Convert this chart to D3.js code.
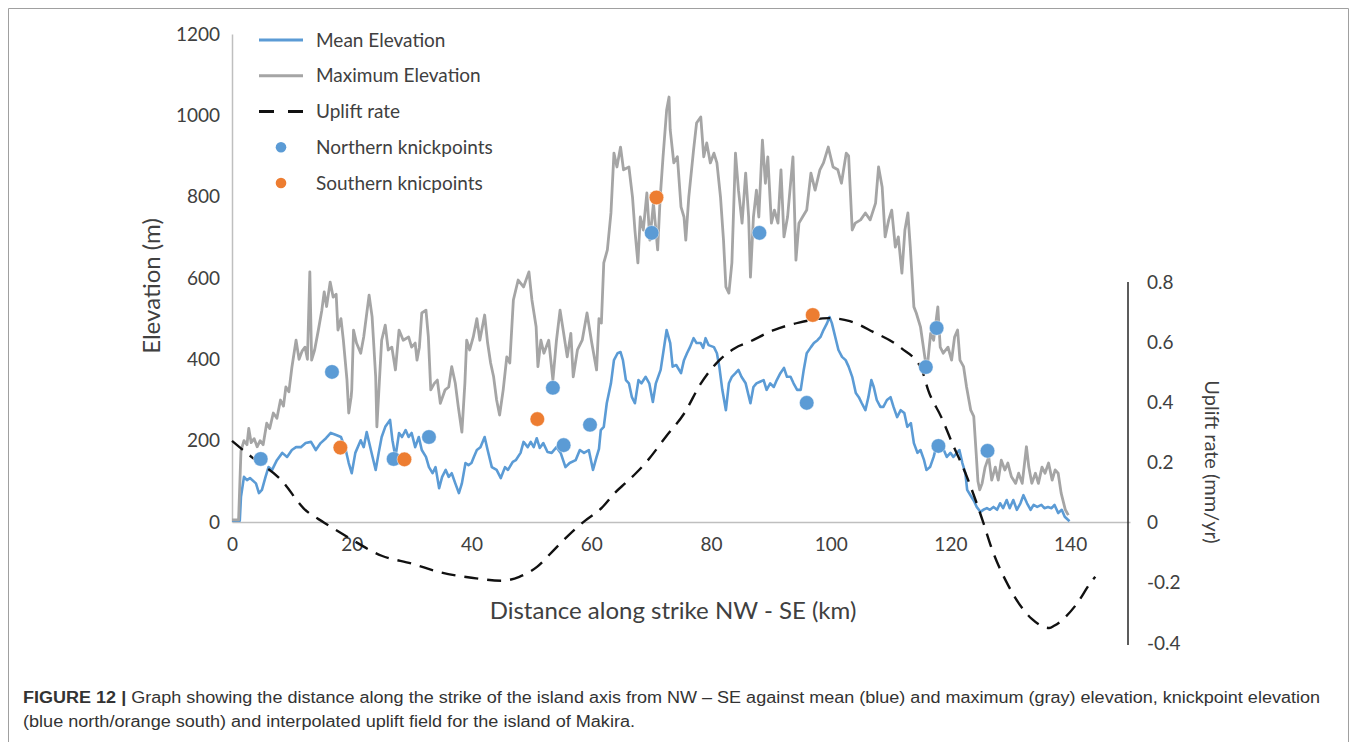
<!DOCTYPE html>
<html>
<head>
<meta charset="utf-8">
<script src="https://cdn.jsdelivr.net/npm/d3@7"></script>
<style>
  html, body { margin: 0; padding: 0; background: #fff; }
  svg { display: block; }
</style>
</head>
<body>
<svg id="fig" width="1357" height="742"></svg>
<script>
// Mean elevation along strike: [distance km, elevation m]
const meanElevation = [
[0,3],[1.3,3],[1.5,62],[2.0,111],[2.5,103],[3.0,108],[4.0,95],[4.5,71],[5.0,79],[5.6,111],[6.1,135],[6.7,128],[7.5,152],[8.4,170],[9.2,160],[10.0,177],[10.7,184],[11.5,184],[12.3,194],[13.2,197],[14.0,177],[14.8,194],[15.7,206],[16.5,219],[17.4,214],[18.2,209],[19.0,177],[19.5,145],[20.0,120],[20.6,170],[21.5,201],[22.0,184],[22.5,221],[23.2,177],[24.0,128],[24.5,170],[25.0,209],[25.6,234],[26.4,251],[26.8,201],[27.3,160],[27.9,219],[28.4,209],[29.0,226],[29.5,209],[30.0,219],[30.6,184],[31.2,209],[31.7,177],[32.4,160],[32.9,135],[33.5,120],[34.0,135],[34.6,83],[35.1,111],[35.7,128],[36.2,111],[36.7,120],[37.3,95],[37.9,71],[38.4,95],[39.0,145],[39.5,140],[40.0,145],[40.4,160],[40.9,177],[41.5,184],[42.2,209],[42.7,177],[43.4,135],[44.2,128],[44.9,108],[45.6,135],[46.1,128],[46.9,148],[47.4,152],[48.2,170],[48.7,197],[49.4,184],[49.9,197],[50.4,184],[50.9,206],[51.4,182],[52.0,194],[52.7,172],[53.4,170],[54.2,184],[54.9,170],[55.7,135],[56.4,145],[57.4,152],[58.1,177],[58.8,170],[59.6,177],[60.3,128],[60.9,160],[61.3,180],[61.6,226],[62.1,234],[62.6,292],[63.3,341],[63.8,398],[64.4,415],[64.9,418],[65.3,398],[65.8,349],[66.3,341],[66.8,307],[67.3,292],[67.9,349],[68.4,341],[69.1,357],[69.7,341],[70.3,295],[70.8,341],[71.6,374],[72.1,423],[72.6,472],[73.2,440],[73.6,382],[74.2,386],[75.0,366],[75.5,398],[76.0,415],[76.5,430],[77.1,452],[77.6,440],[78.3,440],[78.7,428],[79.1,452],[79.6,435],[80.5,430],[81.0,415],[81.4,382],[81.9,325],[82.5,275],[83.0,341],[83.5,357],[84.1,366],[84.6,374],[85.1,357],[85.8,341],[86.6,292],[87.1,332],[87.6,341],[88.2,345],[88.8,349],[89.3,325],[89.9,341],[90.5,332],[91.0,349],[91.6,366],[92.2,379],[92.7,357],[93.3,357],[93.8,341],[94.4,325],[95.0,325],[95.5,374],[96.0,415],[96.7,430],[97.2,440],[97.8,447],[98.3,455],[98.8,472],[99.4,489],[99.8,504],[100.2,489],[100.9,447],[101.3,423],[101.9,406],[102.5,398],[103.0,382],[103.6,357],[104.2,317],[104.7,307],[105.2,292],[105.8,275],[106.3,307],[106.8,349],[107.2,332],[107.7,300],[108.3,283],[108.8,283],[109.4,300],[110.0,307],[110.5,283],[111.1,258],[111.7,275],[112.3,268],[112.8,234],[113.4,243],[113.9,194],[114.5,170],[115.0,177],[115.6,152],[116.0,128],[116.6,135],[117.2,160],[117.8,194],[118.3,184],[118.9,177],[119.4,160],[120.0,170],[120.5,160],[121.1,170],[121.5,177],[122.0,145],[122.5,120],[122.8,79],[123.5,62],[124.0,50],[124.4,37],[125.0,25],[125.5,30],[126.1,34],[126.6,30],[127.2,37],[127.8,30],[128.3,46],[128.8,34],[129.4,54],[129.9,34],[130.5,54],[131.1,30],[131.7,46],[132.2,66],[132.8,46],[133.4,30],[133.9,42],[134.5,37],[135.2,42],[135.7,34],[136.3,37],[136.9,34],[137.4,42],[138.0,22],[138.6,30],[139.1,13],[139.9,2]
];

// Maximum elevation along strike: [distance km, elevation m]
const maxElevation = [
[0,5],[1.1,5],[1.5,175],[2.0,200],[2.5,190],[2.8,230],[3.2,195],[3.7,205],[4.2,185],[4.7,200],[5.2,190],[5.8,243],[6.3,230],[6.9,268],[7.5,255],[8.1,300],[8.6,285],[9.0,332],[9.5,320],[10.0,380],[10.7,447],[11.2,400],[11.7,420],[12.2,430],[12.6,400],[13.0,615],[13.3,398],[13.8,423],[14.4,470],[15.0,520],[15.4,566],[15.8,530],[16.4,590],[16.9,553],[17.4,560],[17.7,472],[18.2,500],[18.6,447],[19.2,350],[19.5,268],[19.9,307],[20.0,325],[20.3,472],[20.8,440],[21.5,415],[22.0,455],[22.9,558],[23.4,505],[24.0,357],[24.2,234],[24.6,341],[25.0,447],[25.6,484],[26.1,423],[26.7,430],[27.3,374],[27.9,472],[28.6,447],[29.5,455],[30.0,430],[30.6,440],[30.9,398],[31.3,430],[31.7,514],[32.4,521],[32.8,455],[33.2,325],[33.8,341],[34.3,349],[34.8,292],[35.6,325],[36.2,332],[36.7,382],[37.3,341],[37.8,283],[38.4,221],[38.9,341],[39.2,447],[39.7,423],[40.3,455],[40.9,500],[41.4,447],[42.2,509],[42.7,440],[43.2,391],[43.7,357],[44.2,300],[44.7,263],[45.3,325],[45.9,406],[46.4,391],[47.0,546],[47.8,595],[48.7,578],[49.6,615],[50.1,546],[50.8,480],[51.1,382],[51.6,447],[52.1,415],[52.9,447],[53.6,349],[54.2,447],[54.8,521],[55.4,464],[56.0,406],[56.6,464],[57.0,357],[57.7,423],[58.5,447],[59.3,514],[60.1,440],[60.9,374],[61.3,500],[61.7,489],[62.1,637],[62.7,669],[63.3,760],[63.8,907],[64.3,873],[64.9,922],[65.4,866],[66.3,873],[66.9,799],[67.3,718],[67.8,637],[68.2,750],[68.7,718],[69.3,809],[69.8,693],[70.4,784],[71.1,669],[71.5,792],[72.0,898],[72.6,1013],[73.0,1045],[73.2,964],[73.8,883],[74.4,898],[75.0,775],[75.5,750],[75.8,693],[76.3,799],[77.1,915],[77.6,981],[78.3,996],[78.8,898],[79.3,932],[79.9,883],[80.5,907],[81.0,883],[81.6,799],[82.1,693],[82.5,578],[83.0,563],[83.5,637],[84.1,907],[84.6,816],[85.2,735],[85.8,858],[86.3,750],[86.6,602],[87.1,750],[87.6,816],[88.0,750],[88.6,939],[89.1,833],[89.5,898],[90.1,735],[90.6,767],[91.2,735],[91.7,866],[92.2,701],[92.8,750],[93.7,898],[94.2,644],[94.7,735],[95.3,750],[96.0,767],[96.7,858],[97.4,816],[98.2,866],[98.8,883],[99.6,922],[100.4,873],[101.2,866],[101.8,833],[102.6,907],[103.0,900],[103.6,718],[104.1,735],[105.0,743],[105.8,760],[106.6,743],[107.5,784],[108.0,873],[108.6,824],[109.1,701],[109.7,743],[110.2,767],[110.8,676],[111.3,701],[111.9,612],[112.4,718],[112.9,760],[113.3,676],[113.9,529],[114.3,514],[115.0,480],[115.8,398],[116.2,391],[116.7,464],[117.2,447],[117.9,529],[118.3,430],[118.8,415],[119.6,430],[120.2,398],[120.7,455],[121.2,472],[121.6,398],[122.2,382],[122.7,332],[123.4,275],[123.9,260],[124.3,170],[124.6,100],[124.9,79],[125.3,95],[125.8,135],[126.4,160],[126.9,103],[127.5,135],[128.0,103],[128.5,152],[129.1,128],[129.6,145],[130.2,111],[130.9,95],[131.4,120],[132.0,95],[132.7,185],[133.1,135],[133.6,95],[134.2,120],[134.7,95],[135.3,135],[135.8,120],[136.4,145],[137.0,103],[137.5,128],[138.0,120],[138.5,71],[139.2,30],[139.7,17]
];

// Interpolated uplift field: [distance km, uplift mm/yr]
const upliftRate = [
[0,0.272],[3.4,0.216],[8.3,0.14],[12,0.047],[15.4,0.0],[19.5,-0.05],[25,-0.11],[30,-0.136],[35,-0.166],[40,-0.183],[45,-0.193],[48,-0.18],[51,-0.146],[54,-0.086],[57,-0.027],[59,0.007],[61.8,0.05],[64,0.10],[65.8,0.133],[67.5,0.165],[69.4,0.206],[72.6,0.289],[75.5,0.362],[78.3,0.462],[81.3,0.538],[84,0.58],[86.3,0.60],[90.5,0.64],[94.7,0.665],[99.7,0.68],[103.2,0.67],[107,0.635],[111.8,0.58],[115.2,0.51],[116.3,0.44],[118.5,0.35],[120.4,0.26],[122.4,0.17],[125.5,0.0],[126.8,-0.08],[129.7,-0.21],[133.6,-0.32],[136.5,-0.35],[137.4,-0.342],[141.1,-0.27],[143.4,-0.2],[144.2,-0.18]
];

// Knickpoints: [distance km, elevation m]
const northernKnickpoints = [
[4.8,155],[16.7,369],[27.0,155],[32.9,209],[53.6,330],[55.4,189],[59.8,239],[70.1,711],[88.1,711],[96.0,293],[115.9,381],[117.7,477],[118.0,187],[126.2,175]
];
const southernKnickpoints = [
[18.1,183],[28.8,154],[51.0,253],[70.9,798],[97.0,509]
];

// Axis ticks
const distanceTicks = [0, 20, 40, 60, 80, 100, 120, 140];
const elevationTicks = [0, 200, 400, 600, 800, 1000, 1200];
const upliftTicks = [-0.4, -0.2, 0, 0.2, 0.4, 0.6, 0.8];

const legendItems = [
  { label: "Mean Elevation", kind: "line", color: "#5b9bd5" },
  { label: "Maximum Elevation", kind: "line", color: "#a5a5a5" },
  { label: "Uplift rate", kind: "dash", color: "#111" },
  { label: "Northern knickpoints", kind: "dot", color: "#5b9bd5" },
  { label: "Southern knicpoints", kind: "dot", color: "#ed7d31" }
];

const captionBold = "FIGURE 12 |";
const captionLine1 = " Graph showing the distance along the strike of the island axis from NW \u2013 SE against mean (blue) and maximum (gray) elevation, knickpoint elevation";
const captionLine2 = "(blue north/orange south) and interpolated uplift field for the island of Makira.";

const svg = d3.select("#fig");
const FONT = "Lato, 'Open Sans', sans-serif";
const TEXT = "#404040";

// Frame around figure and caption
svg.append("path")
  .attr("d", "M8.5,742 V8.5 H1348.5 V742")
  .attr("fill", "none").attr("stroke", "#a0a0a0").attr("stroke-width", 1);

const x = d3.scaleLinear().domain([0, 150]).range([232, 1130]);
const yElev = d3.scaleLinear().domain([0, 1200]).range([522, 34]);
const yUp = d3.scaleLinear().domain([-0.4, 0.8]).range([643, 282]);

// Left elevation axis
const gLeft = svg.append("g").attr("transform", `translate(${x(0)},0)`)
  .call(d3.axisLeft(yElev).tickValues(elevationTicks).tickSize(0).tickPadding(12).tickFormat(d3.format("d")));
gLeft.select(".domain").attr("stroke", "#bfbfbf").attr("stroke-width", 1.5);
gLeft.selectAll("text").attr("font-family", FONT).attr("font-size", 19).attr("fill", TEXT);

// Bottom distance axis
const gBottom = svg.append("g").attr("transform", `translate(0,${yElev(0)})`)
  .call(d3.axisBottom(x).tickValues(distanceTicks).tickSize(0).tickPadding(16));
gBottom.select(".domain").attr("stroke", "#bfbfbf").attr("stroke-width", 1.5);
gBottom.selectAll("text").attr("font-family", FONT).attr("font-size", 19).attr("fill", TEXT);

// Right uplift axis (hyphen-minus labels)
const gRight = svg.append("g").attr("transform", `translate(${x(150) - 2},0)`)
  .call(d3.axisRight(yUp).tickValues(upliftTicks).tickSize(0).tickPadding(19)
    .tickFormat(d => String(+d.toFixed(1))));
gRight.select(".domain").attr("stroke", "#262626").attr("stroke-width", 1.5)
  .attr("d", `M0,${yUp(0.8)}V${yUp(-0.4) + 2}`);
gRight.selectAll("text").attr("font-family", FONT).attr("font-size", 19).attr("fill", TEXT);

// Axis titles
svg.append("text")
  .attr("transform", "translate(160,286) rotate(-90)")
  .attr("text-anchor", "middle").attr("font-family", FONT).attr("font-size", 24).attr("fill", TEXT)
  .text("Elevation (m)");
svg.append("text")
  .attr("x", 673).attr("y", 619)
  .attr("text-anchor", "middle").attr("font-family", FONT).attr("font-size", 24).attr("fill", TEXT)
  .text("Distance along strike NW - SE (km)");
svg.append("text")
  .attr("transform", "translate(1205,462) rotate(90)")
  .attr("text-anchor", "middle").attr("font-family", FONT).attr("font-size", 20).attr("fill", TEXT)
  .text("Uplift rate (mm/yr)");

// Series lines
const elevLine = d3.line().x(d => x(d[0])).y(d => yElev(d[1]));
svg.append("path").datum(meanElevation)
  .attr("d", elevLine).attr("fill", "none").attr("stroke", "#5b9bd5")
  .attr("stroke-width", 2.6).attr("stroke-linejoin", "round");
svg.append("path").datum(maxElevation)
  .attr("d", elevLine).attr("fill", "none").attr("stroke", "#a5a5a5")
  .attr("stroke-width", 2.8).attr("stroke-linejoin", "round");

const upLine = d3.line().x(d => x(d[0])).y(d => yUp(d[1])).curve(d3.curveMonotoneX);
svg.append("path").datum(upliftRate)
  .attr("d", upLine).attr("fill", "none").attr("stroke", "#111")
  .attr("stroke-width", 2.4).attr("stroke-dasharray", "14,9");

// Knickpoint markers
function dots(data, color) {
  svg.append("g").selectAll("circle").data(data).join("circle")
    .attr("cx", d => x(d[0])).attr("cy", d => yElev(d[1])).attr("r", 7.3)
    .attr("fill", color).attr("stroke", "rgba(255,255,255,0.45)").attr("stroke-width", 1);
}
dots(northernKnickpoints, "#5b9bd5");
dots(southernKnickpoints, "#ed7d31");

// Legend
const rowY = d3.scalePoint().domain(legendItems.map(d => d.label)).range([40, 183]);
const lg = svg.append("g");
legendItems.forEach(item => {
  const yy = rowY(item.label);
  if (item.kind === "line" || item.kind === "dash") {
    lg.append("line").attr("x1", 259).attr("x2", 303).attr("y1", yy).attr("y2", yy)
      .attr("stroke", item.color).attr("stroke-width", 2.8)
      .attr("stroke-dasharray", item.kind === "dash" ? "15,14" : null);
  } else {
    lg.append("circle").attr("cx", 281).attr("cy", yy).attr("r", 5.3).attr("fill", item.color);
  }
  lg.append("text").attr("x", 316).attr("y", yy).attr("dy", "0.35em")
    .attr("font-family", FONT).attr("font-size", 19).attr("fill", TEXT)
    .text(item.label);
});

// Caption
const CAP = "'Liberation Sans', Arial, sans-serif";
const cap1 = svg.append("text").attr("x", 23).attr("y", 703)
  .attr("font-family", CAP).attr("font-size", 16).attr("fill", "#333")
  .attr("textLength", 1297).attr("lengthAdjust", "spacingAndGlyphs");
cap1.append("tspan").attr("font-weight", "bold").text(captionBold);
cap1.append("tspan").text(captionLine1);
svg.append("text").attr("x", 23).attr("y", 727)
  .attr("font-family", CAP).attr("font-size", 16).attr("fill", "#333")
  .attr("textLength", 612).attr("lengthAdjust", "spacingAndGlyphs")
  .text(captionLine2);
</script>
</body>
</html>
